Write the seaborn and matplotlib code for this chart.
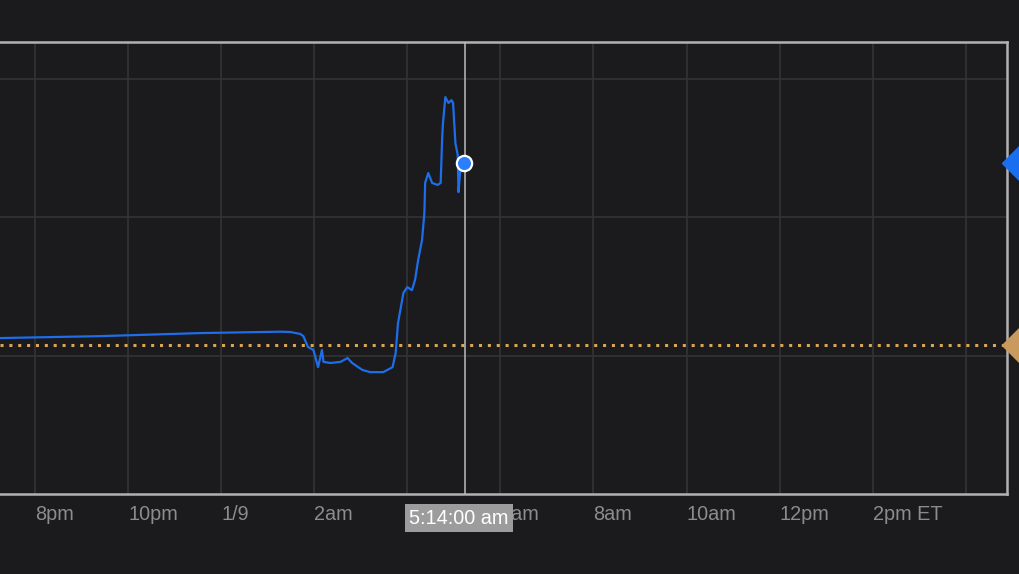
import pandas as pd
import numpy as np
import matplotlib
matplotlib.use("Agg")
import matplotlib.pyplot as plt
import matplotlib.dates as mdates
import matplotlib.transforms as mtransforms
import seaborn as sns

# price path (ET), 2019-01-08 evening -> 2019-01-09 morning
times = ["2019-01-08 19:15", "2019-01-08 21:24", "2019-01-08 23:33", "2019-01-09 01:16",
         "2019-01-09 01:29", "2019-01-09 01:42", "2019-01-09 01:46", "2019-01-09 01:52",
         "2019-01-09 01:59", "2019-01-09 02:05", "2019-01-09 02:10", "2019-01-09 02:12",
         "2019-01-09 02:21", "2019-01-09 02:34", "2019-01-09 02:43", "2019-01-09 02:49",
         "2019-01-09 03:02", "2019-01-09 03:12", "2019-01-09 03:29", "2019-01-09 03:41",
         "2019-01-09 03:45", "2019-01-09 03:48", "2019-01-09 03:55", "2019-01-09 04:00",
         "2019-01-09 04:06", "2019-01-09 04:10", "2019-01-09 04:14", "2019-01-09 04:19",
         "2019-01-09 04:22", "2019-01-09 04:23", "2019-01-09 04:27", "2019-01-09 04:32",
         "2019-01-09 04:39", "2019-01-09 04:43", "2019-01-09 04:45", "2019-01-09 04:46",
         "2019-01-09 04:49", "2019-01-09 04:53", "2019-01-09 04:57", "2019-01-09 04:59",
         "2019-01-09 05:02", "2019-01-09 05:05", "2019-01-09 05:06", "2019-01-09 05:08",
         "2019-01-09 05:13"]
prices = [19.563, 19.570, 19.581, 19.586,
          19.585, 19.578, 19.570, 19.531,
          19.520, 19.458, 19.520, 19.477,
          19.473, 19.477, 19.491, 19.473,
          19.448, 19.440, 19.440, 19.458,
          19.509, 19.617, 19.726, 19.747,
          19.736, 19.773, 19.845, 19.917,
          20.014, 20.123, 20.159, 20.123,
          20.116, 20.123, 20.289, 20.339,
          20.433, 20.412, 20.422, 20.412,
          20.267, 20.224, 20.090, 20.159,
          20.195]
prev_close = 19.538
cursor_time = "2019-01-09 05:14"
cursor_label = "5:14:00 am"

tick_times = ["2019-01-08 20:00", "2019-01-08 22:00", "2019-01-09 00:00", "2019-01-09 02:00",
              "2019-01-09 04:00", "2019-01-09 06:00", "2019-01-09 08:00", "2019-01-09 10:00",
              "2019-01-09 12:00", "2019-01-09 14:00", "2019-01-09 16:00"]
# 4am label sits under the cursor box in the original, so it's left blank
tick_labels = ["8pm", "10pm", "1/9", "2am", "", "6am", "8am", "10am", "12pm", "2pm ET", ""]
y_grid = [19.0, 19.5, 20.0, 20.5]

bg = "#1b1a1c"
sns.set_style("dark", {"axes.facecolor": bg, "figure.facecolor": bg})
plt.rcParams["font.family"] = ["Liberation Sans", "DejaVu Sans"]

df = pd.DataFrame({"time": pd.to_datetime(times), "price": prices})

fig = plt.figure(figsize=(10.2, 5.74), dpi=100)
ax = fig.add_axes([0.0, 80 / 574, 1007 / 1020, 452 / 574])
ax.set_facecolor(bg)

x_start = pd.Timestamp("2019-01-08 19:15")
x_end = pd.Timestamp("2019-01-09 16:53")
ax.set_xlim(x_start, x_end)
ax.set_ylim(19.0, 20.632)

# grid
for t in tick_times:
    ax.axvline(pd.Timestamp(t), color="#343336", lw=1.2, zorder=1)
for v in y_grid[1:]:
    ax.axhline(v, color="#343336", lw=1.2, zorder=1)

# previous close
ax.axhline(prev_close, color="#d9a556", lw=2.2, linestyle=(0, (1, 1.9)), zorder=2)

sns.lineplot(data=df, x="time", y="price", ax=ax, color="#1d6ee8", lw=1.6, zorder=3)

# cursor
ct = pd.Timestamp(cursor_time)
ax.axvline(ct, color="#bdbdbd", lw=1.1, zorder=4)
ax.plot([df["time"].iloc[-1]], [df["price"].iloc[-1]], "o", ms=11, mfc="#2b7fff",
        mec="white", mew=1.6, zorder=5)

# right edge markers
tr = mtransforms.blended_transform_factory(ax.transAxes, ax.transData)
ax.plot([1.012], [df["price"].iloc[-1]], marker="D", ms=17, color="#1a6ff0",
        transform=tr, clip_on=False, zorder=6)
ax.plot([1.012], [prev_close], marker="D", ms=17, color="#c99a5b",
        transform=tr, clip_on=False, zorder=6)

# frame
for side in ["top", "right", "bottom"]:
    ax.spines[side].set_visible(True)
    ax.spines[side].set_color("#b2b2b2")
    ax.spines[side].set_linewidth(1.8)
ax.spines["left"].set_visible(False)

ax.set_xticks(pd.to_datetime(tick_times))
ax.set_xticklabels(tick_labels, ha="left", color="#8c8c8c", fontsize=14.3)
offset = mtransforms.ScaledTranslation(4 / 100, 0, fig.dpi_scale_trans)
for lab in ax.get_xticklabels():
    lab.set_transform(lab.get_transform() + offset)
ax.tick_params(axis="x", length=0, pad=8)
ax.set_yticks([])
ax.set_xlabel("")
ax.set_ylabel("")

ax.annotate(cursor_label, xy=(mdates.date2num(ct), 0), xycoords=("data", "axes fraction"),
            xytext=(-4, -17.5), textcoords="offset points", ha="center", va="center",
            color="white", fontsize=14.3, zorder=10,
            bbox=dict(boxstyle="square,pad=0.22", fc="#9c9c9c", ec="none"))

fig.savefig("out.png", dpi=100, facecolor=bg)
